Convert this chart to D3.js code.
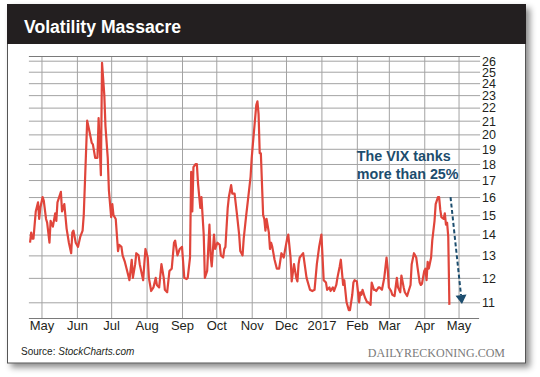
<!DOCTYPE html>
<html><head><meta charset="utf-8">
<script src="https://cdn.jsdelivr.net/npm/d3@7/dist/d3.min.js"></script>
<style>
html,body{margin:0;padding:0;background:#fff;}
svg{display:block;}
</style></head>
<body>
<svg id="chart" width="540" height="377"></svg>
<script>
const dates = ["2016-04-21","2016-04-22","2016-04-23","2016-04-24","2016-04-26","2016-04-28","2016-04-29","2016-04-30","2016-05-02","2016-05-03","2016-05-05","2016-05-06","2016-05-08","2016-05-09","2016-05-11","2016-05-13","2016-05-14","2016-05-15","2016-05-18","2016-05-19","2016-05-21","2016-05-23","2016-05-25","2016-05-27","2016-05-28","2016-05-29","2016-05-31","2016-06-02","2016-06-04","2016-06-06","2016-06-07","2016-06-10","2016-06-11","2016-06-12","2016-06-14","2016-06-15","2016-06-17","2016-06-19","2016-06-20","2016-06-22","2016-06-23","2016-06-25","2016-06-26","2016-06-28","2016-06-29","2016-07-01","2016-07-02","2016-07-03","2016-07-05","2016-07-07","2016-07-08","2016-07-10","2016-07-11","2016-07-13","2016-07-15","2016-07-17","2016-07-19","2016-07-20","2016-07-22","2016-07-23","2016-07-25","2016-07-26","2016-07-29","2016-07-30","2016-07-31","2016-08-02","2016-08-03","2016-08-05","2016-08-07","2016-08-09","2016-08-10","2016-08-12","2016-08-14","2016-08-16","2016-08-17","2016-08-19","2016-08-21","2016-08-23","2016-08-25","2016-08-26","2016-08-28","2016-08-30","2016-09-01","2016-09-03","2016-09-05","2016-09-06","2016-09-08","2016-09-09","2016-09-10","2016-09-11","2016-09-13","2016-09-14","2016-09-15","2016-09-17","2016-09-18","2016-09-20","2016-09-21","2016-09-23","2016-09-25","2016-09-26","2016-09-27","2016-09-29","2016-09-30","2016-10-02","2016-10-04","2016-10-05","2016-10-07","2016-10-08","2016-10-09","2016-10-11","2016-10-12","2016-10-14","2016-10-15","2016-10-17","2016-10-19","2016-10-21","2016-10-22","2016-10-24","2016-10-25","2016-10-27","2016-10-29","2016-10-31","2016-11-01","2016-11-02","2016-11-04","2016-11-05","2016-11-06","2016-11-07","2016-11-08","2016-11-09","2016-11-11","2016-11-12","2016-11-13","2016-11-14","2016-11-16","2016-11-17","2016-11-18","2016-11-19","2016-11-21","2016-11-23","2016-11-25","2016-11-27","2016-11-29","2016-11-30","2016-12-02","2016-12-03","2016-12-05","2016-12-06","2016-12-08","2016-12-10","2016-12-11","2016-12-12","2016-12-13","2016-12-16","2016-12-19","2016-12-22","2016-12-24","2016-12-26","2016-12-28","2016-12-30","2017-01-01","2017-01-03","2017-01-05","2017-01-06","2017-01-08","2017-01-09","2017-01-11","2017-01-12","2017-01-14","2017-01-15","2017-01-17","2017-01-18","2017-01-20","2017-01-21","2017-01-23","2017-01-25","2017-01-26","2017-01-28","2017-01-29","2017-01-30","2017-02-01","2017-02-03","2017-02-04","2017-02-05","2017-02-06","2017-02-08","2017-02-10","2017-02-11","2017-02-13","2017-02-14","2017-02-16","2017-02-17","2017-02-18","2017-02-20","2017-02-21","2017-02-23","2017-02-25","2017-02-27","2017-02-28","2017-03-01","2017-03-03","2017-03-04","2017-03-06","2017-03-08","2017-03-09","2017-03-11","2017-03-12","2017-03-14","2017-03-15","2017-03-17","2017-03-18","2017-03-20","2017-03-21","2017-03-23","2017-03-25","2017-03-26","2017-03-28","2017-03-29","2017-03-30","2017-04-01","2017-04-02","2017-04-03","2017-04-04","2017-04-05","2017-04-07","2017-04-08","2017-04-10","2017-04-11","2017-04-13","2017-04-14","2017-04-15","2017-04-16","2017-04-18","2017-04-19","2017-04-20","2017-04-21","2017-04-22","2017-04-23"];
const vix = [13.6,14.1,13.8,13.8,15.2,15.7,14.8,15.4,16.0,15.8,14.8,14.6,13.6,14.7,14.4,15.1,14.7,15.7,16.3,15.2,15.6,14.3,13.6,13.1,14.1,14.2,13.6,13.4,13.9,14.2,15.0,21.0,20.6,20.2,19.4,19.3,18.4,18.4,21.2,17.3,25.8,23.0,20.6,18.4,16.4,14.9,15.6,15.0,14.8,13.2,13.5,13.4,13.0,12.7,12.3,11.9,12.8,12.0,12.6,13.1,13.0,12.6,11.9,12.6,13.3,12.9,12.0,11.45,11.6,12.0,11.7,11.6,12.6,12.0,11.5,11.4,12.3,12.4,13.6,13.7,13.0,13.3,13.4,12.0,11.95,12.0,12.9,17.5,15.2,17.8,18.0,18.0,16.8,15.4,16.0,14.0,12.0,12.3,14.5,13.0,12.5,14.0,13.3,13.6,13.5,13.0,12.9,13.3,13.4,15.4,16.0,16.7,16.2,16.2,15.1,14.0,13.2,13.0,13.8,14.9,16.0,17.2,18.4,19.3,21.2,22.2,22.5,21.5,18.7,18.7,15.0,14.8,14.2,14.8,14.1,13.3,13.6,13.4,12.8,12.4,12.4,13.1,12.9,13.2,13.8,14.0,12.9,11.85,12.6,12.0,11.85,12.6,12.9,13.1,12.0,11.5,11.45,11.5,12.6,13.4,14.0,11.9,11.8,11.5,11.6,11.45,11.6,11.45,11.7,12.0,12.5,12.8,11.7,11.9,11.0,10.7,10.7,11.3,11.8,11.9,11.85,11.0,11.4,11.3,11.5,11.2,11.0,11.0,10.9,11.8,11.5,11.5,11.45,11.6,11.6,11.5,12.0,12.9,12.4,11.6,11.45,11.3,11.25,12.0,11.6,11.4,12.1,11.6,11.4,11.25,11.4,11.7,12.6,13.1,12.9,12.5,11.8,11.7,11.75,12.3,12.4,11.9,12.7,12.4,12.9,13.7,14.7,15.6,16.0,16.0,15.3,14.9,14.8,15.1,14.5,14.6,13.9,10.9];

const monthTicks = ["2016-05-01","2016-06-01","2016-07-01","2016-08-01","2016-09-01","2016-10-01","2016-11-01","2016-12-01","2017-01-01","2017-02-01","2017-03-01","2017-04-01","2017-05-01"];
const monthLabels = ["May","Jun","Jul","Aug","Sep","Oct","Nov","Dec","2017","Feb","Mar","Apr","May"];
const yTicks = [11,12,13,14,15,16,17,18,19,20,21,22,23,24,25,26];

const title = "Volatility Massacre";
const source1 = "Source: ";
const source2 = "StockCharts.com";
const brand = "DAILYRECKONING.COM";
const noteLines = ["The VIX tanks","more than 25%"];
const arrowFrom = ["2017-04-24", 16.0];
const arrowTo = ["2017-05-04", 10.93];
const noteAt = ["2017-02-01", 18.2];

const parse = d3.utcParse("%Y-%m-%d");
const data = dates.map((d,i)=>({date:parse(d), v:vix[i]}));

const svg = d3.select("#chart");
const defs = svg.append("defs");
const f = defs.append("filter").attr("id","shadow").attr("x","-5%").attr("y","-5%").attr("width","115%").attr("height","120%");
f.append("feDropShadow").attr("dx",4).attr("dy",4).attr("stdDeviation",3).attr("flood-color","#000").attr("flood-opacity",0.45);

svg.append("rect").attr("width",540).attr("height",377).attr("fill","#fff");
svg.append("rect").attr("x",7.5).attr("y",4.5).attr("width",518).attr("height",358.5)
  .attr("fill","#fff").attr("stroke","#555").attr("stroke-width",1).attr("filter","url(#shadow)");
svg.append("rect").attr("x",7).attr("y",4).attr("width",519).attr("height",40).attr("fill","#231f20");
svg.append("text").attr("x",24).attr("y",33).text(title)
  .attr("fill","#fff").attr("font-family","Liberation Sans, Arial, sans-serif").attr("font-weight","bold").attr("font-size","17.6px");

const pLeft = 28.9, pRight = 479.1, pTop = 56, pBottom = 318;
const x = d3.scaleUtc().domain([parse("2016-04-20"), parse("2017-05-19")]).range([pLeft, pRight]);
const y = d3.scaleLog().domain([11,26]).range([302.3, 60.7]);

const xAxis = d3.axisBottom(x).tickValues(monthTicks.map(parse))
  .tickFormat((d,i)=>monthLabels[i]).tickSize(-(pBottom-pTop)).tickPadding(4);
const gx = svg.append("g").attr("transform",`translate(0,${pBottom})`).call(xAxis);
gx.select(".domain").remove();
gx.selectAll(".tick line").attr("stroke","#a3a3a3").attr("stroke-width",1);
gx.selectAll(".tick text").attr("fill","#231f20").attr("font-family","Liberation Sans, Arial, sans-serif")
  .attr("font-size","13px").attr("dy","0.62em");

const yAxis = d3.axisRight(y).tickValues(yTicks).tickFormat(d3.format("d"))
  .tickSize(-(pRight+1-pLeft)).tickPadding(2);
const gy = svg.append("g").attr("transform",`translate(${pRight+1},0)`).call(yAxis);
gy.select(".domain").remove();
gy.selectAll(".tick line").attr("stroke","#a3a3a3").attr("stroke-width",1);
gy.selectAll(".tick text").attr("fill","#231f20").attr("font-family","Liberation Sans, Arial, sans-serif")
  .attr("font-size","12.5px").attr("dy","0.35em");

svg.append("line").attr("x1",pLeft).attr("x2",pRight+1).attr("y1",pTop+0.5).attr("y2",pTop+0.5).attr("stroke","#7a7a7a");
svg.append("line").attr("x1",pLeft).attr("x2",pRight).attr("y1",pBottom+0.5).attr("y2",pBottom+0.5).attr("stroke","#7a7a7a");

const line = d3.line().x(d=>x(d.date)).y(d=>y(d.v)).curve(d3.curveLinear);
svg.append("path").datum(data).attr("d",line).attr("fill","none")
  .attr("stroke","#e0453b").attr("stroke-width",2.2).attr("stroke-linejoin","round");

const nx = x(parse(noteAt[0])), ny = y(noteAt[1]);
const nt = svg.append("text").attr("fill","#1c4d6e").attr("font-family","Liberation Sans, Arial, sans-serif")
  .attr("font-weight","bold").attr("font-size","14.3px");
noteLines.forEach((t,i)=>nt.append("tspan").attr("x",nx).attr("y",ny+i*18).text(t));

const ax0 = x(parse(arrowFrom[0])), ay0 = y(arrowFrom[1]);
const ax1 = x(parse(arrowTo[0])), ay1 = y(arrowTo[1]);
const len = Math.hypot(ax1-ax0, ay1-ay0);
const ux = (ax1-ax0)/len, uy = (ay1-ay0)/len;
const headL = 9, headW = 5.5;
const bx = ax1-ux*headL, by = ay1-uy*headL;
svg.append("line").attr("x1",ax0).attr("y1",ay0).attr("x2",bx).attr("y2",by)
  .attr("stroke","#1c4d6e").attr("stroke-width",2).attr("stroke-dasharray","4,2.5");
svg.append("path").attr("d",`M${ax1},${ay1}L${bx-uy*headW},${by+ux*headW}L${bx+uy*headW},${by-ux*headW}Z`)
  .attr("fill","#1c4d6e");

const st = svg.append("text").attr("x",21).attr("y",355).attr("fill","#231f20")
  .attr("font-family","Liberation Sans, Arial, sans-serif").attr("font-size","10px");
st.append("tspan").text(source1);
st.append("tspan").attr("font-style","italic").text(source2);
svg.append("text").attr("x",505).attr("y",356.5).attr("text-anchor","end").attr("fill","#7a7a7a")
  .attr("font-family","Liberation Serif, Times New Roman, serif").attr("font-size","12px").text(brand);
</script>
</body></html>
